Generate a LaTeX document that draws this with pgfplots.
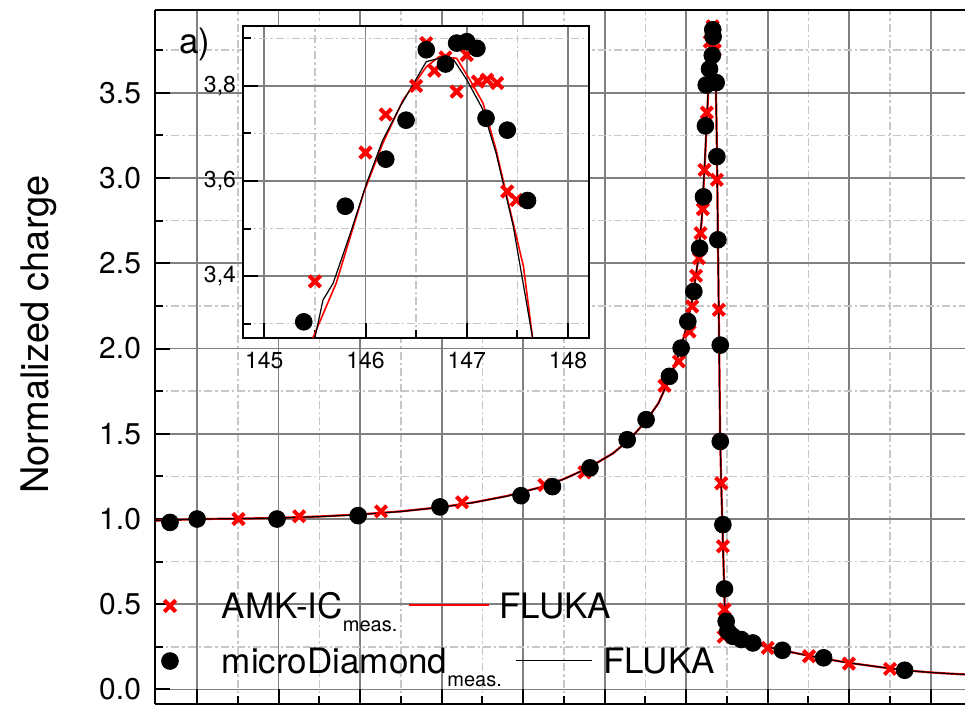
\documentclass[border=0pt]{standalone}
\usepackage{pgfplots}
\pgfplotsset{compat=1.18}
\usepackage{pgfplotstable}
\usepackage{fontspec}
\setmainfont{TeX Gyre Heros}

\pgfplotstableread{
x y
117.54 1.0
121.26 1.016
126.28 1.045
131.25 1.098
136.3 1.2
138.76 1.274
141.38 1.47
143.67 1.782
144.55 1.924
145.2 2.1
145.37 2.247
145.61 2.427
145.78 2.53
145.88 2.677
146.02 2.818
146.12 3.048
146.27 3.384
146.45 3.80
146.62 3.89
146.75 3.75
146.88 2.99
147.0 2.227
147.08 1.46
147.15 1.21
147.25 0.84
147.3 0.31
147.35 0.469
150.0 0.244
152.53 0.195
154.98 0.152
157.5 0.121
}\amkmain

\pgfplotstableread{
x y
113.34 0.98
115.0 1.0
119.9 1.0
124.88 1.02
129.9 1.071
134.87 1.137
136.8 1.19
139.1 1.30
141.38 1.465
142.54 1.583
143.97 1.837
144.69 2.003
145.1 2.159
145.47 2.335
145.82 2.589
146.06 2.89
146.18 3.306
146.23 3.546
146.43 3.64
146.6 3.72
146.63 3.87
146.65 3.83
146.84 3.56
146.88 3.126
146.94 2.638
147.09 2.02
147.09 1.455
147.25 0.967
147.35 0.59
147.45 0.40
147.55 0.342
147.86 0.312
148.38 0.293
149.09 0.273
150.9 0.23
153.43 0.186
158.4 0.113
}\diamain

\pgfplotstableread{
x y
112.42 0.99
115 1.0
117.5 1.002
120 1.007
122.5 1.015
125 1.027
127.5 1.045
130 1.07
132 1.098
134 1.135
136 1.185
137.5 1.235
139 1.30
140.5 1.385
141.5 1.465
142.5 1.57
143.3 1.68
144 1.83
144.6 1.98
145 2.12
145.4 2.3
145.7 2.5
145.95 2.75
146.15 3.1
146.3 3.4
146.45 3.7
146.6 3.86
146.7 3.84
146.8 3.65
146.88 3.2
146.94 2.7
147.0 2.2
147.08 1.5
147.15 1.2
147.22 0.97
147.27 0.8
147.33 0.6
147.37 0.46
147.45 0.39
147.55 0.345
147.85 0.313
148.4 0.292
149.1 0.272
150 0.25
151 0.228
152 0.208
153 0.19
154 0.172
155 0.156
156 0.143
157 0.13
158 0.118
159 0.108
160 0.1
161 0.094
162.2 0.088
}\flukaredmain

\pgfplotstableread{
x y
112.42 0.99
115 1.0
117.5 1.002
120 1.006
122.5 1.014
125 1.026
127.5 1.044
130 1.069
132 1.097
134 1.134
136 1.184
137.5 1.234
139 1.30
140.5 1.384
141.5 1.464
142.5 1.57
143.3 1.68
144 1.83
144.6 1.98
145 2.12
145.4 2.3
145.7 2.5
145.95 2.76
146.15 3.12
146.3 3.42
146.45 3.72
146.6 3.87
146.7 3.85
146.8 3.64
146.88 3.2
146.94 2.7
147.0 2.2
147.08 1.5
147.15 1.2
147.22 0.97
147.27 0.8
147.33 0.6
147.37 0.46
147.45 0.39
147.55 0.345
147.85 0.313
148.4 0.292
149.1 0.272
150 0.25
151 0.228
152 0.208
153 0.19
154 0.172
155 0.156
156 0.143
157 0.13
158 0.118
159 0.108
160 0.1
161 0.094
162.2 0.088
}\flukablackmain

\pgfplotstableread{
x y
145.39 3.304
145.80 3.547
146.20 3.646
146.40 3.728
146.60 3.876
146.79 3.846
146.90 3.890
147.00 3.893
147.10 3.879
147.19 3.732
147.40 3.707
147.60 3.559
}\diainset

\pgfplotstableread{
x y
145.50 3.389
146.00 3.660
146.20 3.740
146.50 3.800
146.60 3.890
146.68 3.832
146.79 3.860
146.90 3.788
147.00 3.865
147.11 3.809
147.20 3.813
147.30 3.806
147.40 3.578
147.49 3.560
}\amkinset

\pgfplotstableread{
x y
145.44 3.20
145.48 3.27
145.71 3.385
145.98 3.574
146.17 3.679
146.37 3.77
146.60 3.84
146.73 3.862
146.90 3.858
147.03 3.813
147.16 3.764
147.29 3.665
147.42 3.546
147.56 3.42
147.65 3.27
147.70 3.20
}\flukaredinset

\pgfplotstableread{
x y
145.46 3.20
145.50 3.27
145.58 3.35
145.68 3.385
145.85 3.49
146.01 3.595
146.17 3.686
146.34 3.756
146.60 3.851
146.73 3.858
146.87 3.855
147.00 3.813
147.16 3.75
147.29 3.658
147.46 3.504
147.65 3.27
147.70 3.20
}\flukablackinset

\begin{document}
\begin{tikzpicture}
\begin{axis}[
  name=main,
  scale only axis,
  width=405pt, height=347pt,
  xmin=112.42, xmax=162.1,
  ymin=-0.085, ymax=3.986,
  axis x line*=box, axis y line*=left,
  axis line style={line width=1.2pt, black},
  tick align=inside,
  xtick pos=left,
  xtick={115,120,...,160},
  minor xtick={117.5,122.5,...,162.5},
  xticklabels={},
  ytick={0,0.5,...,3.5},
  minor ytick={0.25,0.75,...,3.75},
  grid=both,
  major grid style={color=black!50, line width=0.9pt},
  minor grid style={color=black!22, line width=0.8pt, dash pattern=on 4pt off 1.5pt on 1.2pt off 1.5pt},
  major tick length=7.5pt, minor tick length=4pt,
  tick style={black, line width=1pt},
  /pgf/number format/assume math mode=true,
  yticklabel style={font=\fontsize{15}{15}\selectfont, xshift=-3.5pt,
    /pgf/number format/.cd, fixed, fixed zerofill, precision=1},
  ylabel={Normalized charge},
  every axis y label/.style={at={(axis description cs:-0.1321,0.5324)}, rotate=90, anchor=base,
    font=\fontsize{19}{19}\selectfont},
  legend style={
    at={(axis description cs:0.00617,0.0331)}, anchor=south west,
    draw=none, fill=none, inner sep=0pt, outer sep=0pt,
    font=\fontsize{17.5}{20}\selectfont,
    row sep=10.5pt, column sep=0pt,
    cells={anchor=base west},
    nodes={inner sep=0pt, outer sep=0pt, text height=13pt, text depth=4pt, anchor=base west, text=black},
  },
  legend image code/.code={\path[draw=none,fill=none] (-5pt,-4pt) (26pt,13pt); \draw[#1] plot coordinates {(0pt,6pt)};},
]
\addplot[red, line width=1.1pt, forget plot] table[x=x,y=y] {\flukaredmain};
\addplot[black, line width=0.6pt, forget plot] table[x=x,y=y] {\flukablackmain};
\addplot[only marks, red, mark=x, mark size=4pt, mark options={line width=2pt}] table[x=x,y=y] {\amkmain};
\addlegendentry{AMK-IC\raisebox{-6.5pt}{\fontsize{10}{10}\selectfont meas.}\hspace{6pt}{\color{red}\rule[5.8pt]{40pt}{1pt}}\hspace{5pt}FLUKA}
\addplot[only marks, black, mark=*, mark size=4.2pt] table[x=x,y=y] {\diamain};
\addlegendentry{microDiamond\raisebox{-6.5pt}{\fontsize{10}{10}\selectfont meas.}\hspace{7pt}{\color{black}\rule[5.8pt]{38pt}{0.8pt}}\hspace{5.75pt}FLUKA}
\node[anchor=base west, font=\fontsize{17.5}{20}\selectfont] at (axis description cs:0.021,0.938) {a)};
\end{axis}

\begin{axis}[
  at={(main.south west)}, anchor=south west, xshift=44pt, yshift=183pt,
  scale only axis, width=173pt, height=156pt,
  xmin=144.79, xmax=148.207, ymin=3.27, ymax=3.926,
  axis background/.style={fill=white},
  axis line style={line width=1.2pt, black},
  tick align=inside, xtick pos=left, ytick pos=left,
  xtick={145,146,147,148}, minor xtick={145.5,146.5,147.5},
  ytick={3.4,3.6,3.8}, minor ytick={3.3,3.5,3.7,3.9},
  grid=both,
  major grid style={color=black!50, line width=0.8pt},
  minor grid style={color=black!22, line width=0.7pt, dash pattern=on 4pt off 1.5pt on 1.2pt off 1.5pt},
  major tick length=7.5pt, minor tick length=4pt,
  tick style={black, line width=1pt},
  /pgf/number format/assume math mode=true,
  ticklabel style={font=\fontsize{11.5}{12}\selectfont},
  xticklabel style={yshift=-3.7pt, /pgf/number format/.cd, 1000 sep={}},
  yticklabel style={/pgf/number format/.cd, fixed, fixed zerofill, precision=1, use comma},
]
\addplot[red, line width=0.8pt] table[x=x,y=y] {\flukaredinset};
\addplot[black, line width=0.6pt] table[x=x,y=y] {\flukablackinset};
\addplot[only marks, red, mark=x, mark size=4pt, mark options={line width=2pt}] table[x=x,y=y] {\amkinset};
\addplot[only marks, black, mark=*, mark size=4.2pt] table[x=x,y=y] {\diainset};
\end{axis}
\pgfresetboundingbox
\path[use as bounding box] ([shift={(-77.5pt,-6pt)}]main.south west) rectangle ([shift={(0pt,5pt)}]main.north east);
\end{tikzpicture}
\end{document}
